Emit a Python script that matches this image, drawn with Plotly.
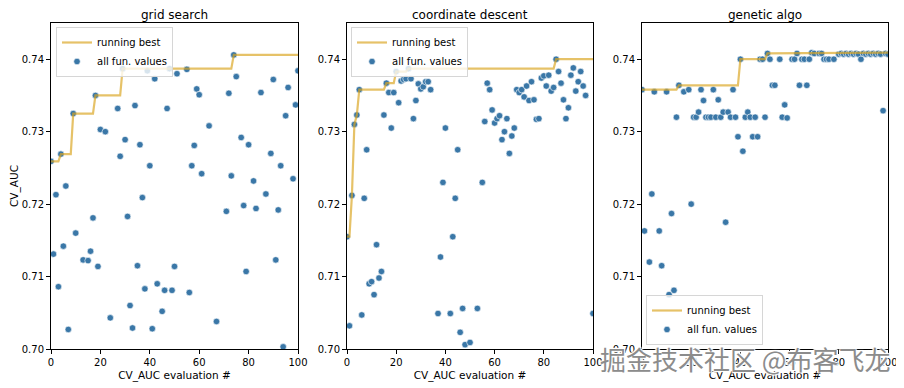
import numpy as np
import plotly.graph_objects as go

# ---------------- data ----------------
grid_x = [0, 1, 2, 3, 4, 5, 6, 7, 9, 10, 13, 15, 16, 17, 18, 19, 20, 22, 24, 27, 28, 29, 30,
          31, 32, 33, 34, 35, 36, 37, 38, 39, 40, 41, 42, 43, 45, 46, 47, 48, 49, 50, 51, 55,
          56, 57, 58, 59, 60, 61, 64, 67, 71, 72, 73, 74, 75, 77, 78, 79, 80, 82, 83, 85, 87,
          89, 90, 91, 92, 93, 94, 95, 96, 98, 99, 100]
grid_y = [0.7259, 0.7131, 0.7213, 0.7086, 0.7269, 0.7142, 0.7225, 0.7027, 0.7325, 0.7160,
          0.7123, 0.7122, 0.7135, 0.7181, 0.7350, 0.7114, 0.7303, 0.7300, 0.7043, 0.7332,
          0.7266, 0.7387, 0.7289, 0.7183, 0.7060, 0.7029, 0.7336, 0.7115, 0.7282, 0.7209,
          0.7083, 0.7384, 0.7253, 0.7028, 0.7373, 0.7090, 0.7052, 0.7081, 0.7332, 0.7387,
          0.7081, 0.7114, 0.7380, 0.7386, 0.7078, 0.7253, 0.7281, 0.7359, 0.7351, 0.7242,
          0.7308, 0.7038, 0.7190, 0.7353, 0.7239, 0.7406, 0.7376, 0.7292, 0.7198, 0.7107,
          0.7282, 0.7232, 0.7194, 0.7354, 0.7214, 0.7270, 0.7372, 0.7123, 0.7192, 0.7253,
          0.7003, 0.7322, 0.7361, 0.7235, 0.7337, 0.7384]

coord_x = [0, 1, 2, 3, 4, 5, 6, 7, 8, 9, 10, 11, 12, 13, 14, 15, 16, 17, 18, 19, 20, 21, 22,
           23, 24, 25, 26, 27, 28, 29, 30, 31, 32, 33, 34, 37, 38, 39, 40, 42, 43, 44, 45, 46,
           47, 48, 50, 53, 55, 56, 57, 58, 59, 60, 61, 62, 63, 64, 65, 66, 67, 68, 69, 70, 71,
           72, 73, 74, 75, 76, 77, 78, 79, 80, 81, 82, 83, 84, 85, 86, 87, 88, 89, 90, 91, 92,
           93, 94, 95, 96, 97, 100]
coord_y = [0.7155, 0.7032, 0.7212, 0.7310, 0.7323, 0.7358, 0.7047, 0.7208, 0.7275, 0.7090,
           0.7093, 0.7075, 0.7144, 0.7098, 0.7107, 0.7323, 0.7367, 0.7354, 0.7305, 0.7354,
           0.7383, 0.7340, 0.7370, 0.7372, 0.7373, 0.7387, 0.7373, 0.7318, 0.7343, 0.7366,
           0.7359, 0.7362, 0.7369, 0.7369, 0.7358, 0.7049, 0.7127, 0.7230, 0.7305, 0.7049,
           0.7155, 0.7208, 0.7275, 0.7023, 0.7056, 0.7006, 0.7009, 0.7056, 0.7230, 0.7314,
           0.7367, 0.7358, 0.7330, 0.7312, 0.7318, 0.7322, 0.7289, 0.7300, 0.7318, 0.7270,
           0.7294, 0.7305, 0.7358, 0.7354, 0.7358, 0.7348, 0.7363, 0.7343, 0.7369, 0.7344,
           0.7317, 0.7318, 0.7374, 0.7377, 0.7363, 0.7378, 0.7356, 0.7361, 0.7400, 0.7383,
           0.7367, 0.7344, 0.7318, 0.7333, 0.7378, 0.7388, 0.7356, 0.7369, 0.7383, 0.7363,
           0.7350, 0.7049]

gen_x = [0, 1, 3, 4, 5, 7, 8, 10, 11, 12, 13, 14, 15, 17, 19, 20, 21, 22, 23, 24, 25, 26,
         27, 28, 29, 30, 31, 32, 33, 34, 35, 36, 37, 38, 39, 40, 41, 42, 43, 44, 45, 46, 47,
         48, 49, 50, 51, 52, 53, 54, 56, 57, 58, 59, 61, 62, 63, 64, 65, 66, 67, 68, 69, 70,
         72, 73, 74, 75, 76, 78, 80, 81, 82, 83, 84, 85, 86, 87, 88, 89, 90, 91, 92, 93, 94,
         95, 96, 97, 98, 99, 100]
gen_y = [0.7358, 0.7163, 0.7120, 0.7214, 0.7355, 0.7163, 0.7115, 0.7355, 0.7075, 0.7187,
         0.7081, 0.7320, 0.7364, 0.7355, 0.7358, 0.7200, 0.7320, 0.7320, 0.7327, 0.7358,
         0.7343, 0.7320, 0.7320, 0.7320, 0.7358, 0.7320, 0.7344, 0.7320, 0.7327, 0.7175,
         0.7327, 0.7320, 0.7358, 0.7320, 0.7293, 0.7400, 0.7273, 0.7320, 0.7327, 0.7320,
         0.7293, 0.7320, 0.7293, 0.7400, 0.7400, 0.7320, 0.7408, 0.7400, 0.7364, 0.7364,
         0.7400, 0.7320, 0.7337, 0.7319, 0.7400, 0.7400, 0.7408, 0.7364, 0.7400, 0.7400,
         0.7364, 0.7400, 0.7409, 0.7408, 0.7408, 0.7408, 0.7400, 0.7400, 0.7400, 0.7400,
         0.7407, 0.7408, 0.7407, 0.7408, 0.7407, 0.7408, 0.7407, 0.7408, 0.7407, 0.7400,
         0.7408, 0.7407, 0.7408, 0.7407, 0.7408, 0.7407, 0.7408, 0.7407, 0.7329, 0.7408,
         0.7407]

panels = [("grid search", grid_x, grid_y),
          ("coordinate descent", coord_x, coord_y),
          ("genetic algo", gen_x, gen_y)]

x_ticks = [0, 20, 40, 60, 80, 100]
y_ticks = [0.70, 0.71, 0.72, 0.73, 0.74]

POINT = "#3a77a7"
LINE = "rgba(218,165,32,0.68)"
FONT = "DejaVu Sans"

# page has an 8px body margin; the figure is sized/placed to compensate
OFF = 8
W, H = 904 - OFF, 388 - OFF
x_dom = [(51, 298), (347, 593), (642, 888)]
y_top, y_bot = 23, 349


def px(xp):
    return (xp - OFF) / W


def py(yp):
    return (H - (yp - OFF)) / H


fig = go.Figure()

legend_pos = [(56, 27, "top"), (351, 27, "top"), (646, 345, "bottom")]

for i, (title, xs, ys) in enumerate(panels):
    n = i + 1
    xa = "x" if n == 1 else f"x{n}"
    ya = "y" if n == 1 else f"y{n}"
    lg = "legend" if n == 1 else f"legend{n}"
    xs_a = np.array(xs)
    ys_a = np.array(ys)
    steps = np.arange(0, 101)
    best = [ys_a[xs_a <= s].max() for s in steps]

    fig.add_trace(go.Scatter(
        x=xs, y=ys, mode="markers", name="all fun. values",
        marker=dict(color=POINT, size=6.5, line=dict(color="white", width=0.6)),
        xaxis=xa, yaxis=ya, legend=lg, legendrank=2, cliponaxis=True))
    fig.add_trace(go.Scatter(
        x=steps, y=best, mode="lines", name="running best",
        line=dict(color=LINE, width=2.2),
        xaxis=xa, yaxis=ya, legend=lg, legendrank=1))

    d0, d1 = x_dom[i]
    axis_common = dict(showline=True, linecolor="black", linewidth=1, mirror=True,
                       ticks="outside", ticklen=4, tickcolor="black", showgrid=False,
                       zeroline=False, automargin=False,
                       tickfont=dict(family=FONT, size=10, color="black"))
    fig.layout[f"xaxis{'' if n == 1 else n}"] = dict(
        domain=[px(d0), px(d1)], range=[0, 100], anchor=ya,
        tickvals=x_ticks, ticktext=[str(t) for t in x_ticks],
        title=dict(text="CV_AUC evaluation #", font=dict(family=FONT, size=10.5, color="black"),
                   standoff=4),
        **axis_common)
    fig.layout[f"yaxis{'' if n == 1 else n}"] = dict(
        domain=[py(y_bot), py(y_top)], range=[0.70, 0.745], anchor=xa,
        tickvals=y_ticks, ticktext=[f"{t:.2f}" for t in y_ticks],
        title=dict(text="CV_AUC" if n == 1 else "", font=dict(family=FONT, size=10.5, color="black"),
                   standoff=6),
        **axis_common)

    fig.add_annotation(text=title, x=px((d0 + d1) / 2), y=py(23), xref="paper", yref="paper",
                       showarrow=False, font=dict(family=FONT, size=12, color="black"),
                       xanchor="center", yanchor="bottom", borderpad=0)

    lx, ly, anc = legend_pos[i]
    fig.layout[lg] = dict(
        x=px(lx), y=py(ly), xanchor="left", yanchor=anc,
        bgcolor="rgba(255,255,255,0.8)", bordercolor="#d6d6d6", borderwidth=1,
        font=dict(family=FONT, size=10, color="black"),
        itemwidth=30, tracegroupgap=0, traceorder="normal")

fig.add_annotation(text="掘金技术社区 @布客飞龙", x=px(745), y=py(358), xref="paper", yref="paper",
                   showarrow=False, xanchor="center", yanchor="middle",
                   font=dict(family="Noto Sans CJK SC", size=26, color="#8c8c8c",
                             shadow="1px 1px 1px white, -1px -1px 1px white, 1px -1px 1px white, -1px 1px 1px white"))

fig.update_layout(width=W, height=H, margin=dict(l=0, r=0, t=0, b=0),
                  plot_bgcolor="white", paper_bgcolor="white", showlegend=True)

fig.write_html("out.html")
